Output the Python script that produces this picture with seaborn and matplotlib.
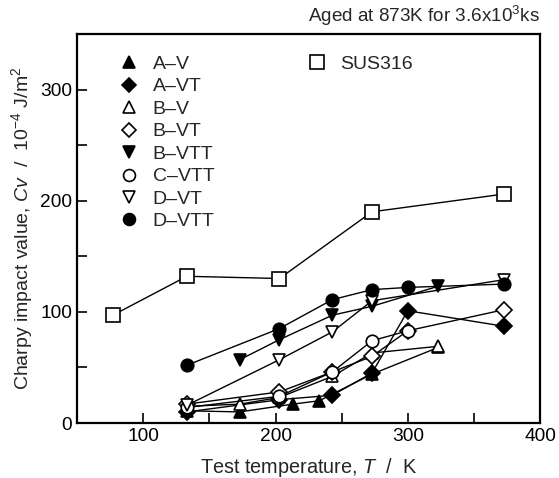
import matplotlib
matplotlib.use("Agg")
import matplotlib.pyplot as plt
import seaborn as sns
import pandas as pd
from matplotlib.lines import Line2D
from matplotlib.ticker import MultipleLocator

# test temperature (K) and Charpy impact value (10^-4 J/m^2)
av_t = [133, 173, 213, 233, 273, 323]
av_cv = [11, 10, 17, 20, 44, 68]
avt_t = [133, 203, 243, 273, 300, 373]
avt_cv = [10, 21, 25, 45, 101, 87]
bv_t = [133, 173, 203, 243, 273, 323]
bv_cv = [15, 17, 23, 42, 63, 69]
bvt_t = [133, 203, 243, 273, 300, 373]
bvt_cv = [17, 28, 46, 60, 83, 102]
bvtt_t = [173, 203, 243, 273, 323]
bvtt_cv = [57, 75, 97, 105, 123]
cvtt_t = [133, 203, 243, 273, 300]
cvtt_cv = [14, 24, 46, 74, 83]
dvt_t = [133, 203, 243, 273, 373]
dvt_cv = [16, 57, 82, 110, 129]
dvtt_t = [133, 203, 243, 273, 300, 373]
dvtt_cv = [52, 85, 111, 120, 122, 125]
sus_t = [77, 133, 203, 273, 373]
sus_cv = [97, 132, 130, 190, 206]

series = [
    ("A–V", av_t, av_cv),
    ("A–VT", avt_t, avt_cv),
    ("B–V", bv_t, bv_cv),
    ("B–VT", bvt_t, bvt_cv),
    ("B–VTT", bvtt_t, bvtt_cv),
    ("C–VTT", cvtt_t, cvtt_cv),
    ("D–VT", dvt_t, dvt_cv),
    ("D–VTT", dvtt_t, dvtt_cv),
]

# marker, face colour, size
styles = {
    "A–V": ("^", "black", 9),
    "A–VT": ("D", "black", 8),
    "B–V": ("^", "white", 9),
    "B–VT": ("D", "white", 8),
    "B–VTT": ("v", "black", 9),
    "C–VTT": ("o", "white", 9),
    "D–VT": ("v", "white", 9),
    "D–VTT": ("o", "black", 9),
    "SUS316": ("s", "white", 10),
}

sns.set_style("ticks")
plt.rcParams["font.family"] = ["Liberation Sans", "DejaVu Sans"]
plt.rcParams["mathtext.fontset"] = "custom"
plt.rcParams["mathtext.rm"] = "Liberation Sans"
plt.rcParams["mathtext.it"] = "Liberation Sans:italic"

fig = plt.figure(figsize=(5.59, 4.78), dpi=100)
ax = fig.add_axes([0.138, 0.115, 0.828, 0.814])


def draw(name, t, cv):
    m, fc, ms = styles[name]
    df = pd.DataFrame({"T": t, "Cv": cv})
    sns.lineplot(data=df, x="T", y="Cv", ax=ax, color="black", linewidth=1.0,
                 marker=m, markersize=ms, markerfacecolor=fc,
                 markeredgecolor="black", markeredgewidth=1.2, zorder=3)


draw("SUS316", sus_t, sus_cv)
for name, t, cv in series:
    draw(name, t, cv)

ax.set_xlim(50, 400)
ax.set_ylim(0, 350)
ax.xaxis.set_major_locator(MultipleLocator(100))
ax.xaxis.set_minor_locator(MultipleLocator(50))
ax.yaxis.set_major_locator(MultipleLocator(100))
ax.yaxis.set_minor_locator(MultipleLocator(50))
ax.tick_params(which="both", direction="in", length=7, width=1.2,
               labelsize=13.8, color="black", labelcolor="black")
for s in ax.spines.values():
    s.set_visible(True)
    s.set_linewidth(1.6)
    s.set_color("black")

ax.set_xlabel("Test temperature, $T$  /  K", fontsize=14.3, labelpad=8)
ax.set_ylabel("Charpy impact value, $Cv$  /  10$^{-4}$ J/m$^2$", fontsize=14, labelpad=4)

fig.text(0.966, 0.967, "Aged at 873K for 3.6x10$^3$ks", ha="right", va="center", fontsize=13.6)


def handle(name):
    m, fc, ms = styles[name]
    return Line2D([], [], linestyle="none", marker=m, markersize=ms * 0.95,
                  markerfacecolor=fc, markeredgecolor="black", markeredgewidth=1.2)


leg1 = ax.legend([handle(n) for n, _, _ in series], [n for n, _, _ in series],
                 loc="upper left", bbox_to_anchor=(0.075, 0.965), frameon=False,
                 fontsize=14, handlelength=1.0, handletextpad=0.7,
                 labelspacing=0.25, borderaxespad=0)
ax.add_artist(leg1)
ax.legend([handle("SUS316")], ["SUS316"], loc="upper left",
          bbox_to_anchor=(0.48, 0.965), frameon=False, fontsize=14,
          handlelength=1.0, handletextpad=0.7, borderaxespad=0)

fig.savefig("out.png", dpi=100)
plt.close(fig)
